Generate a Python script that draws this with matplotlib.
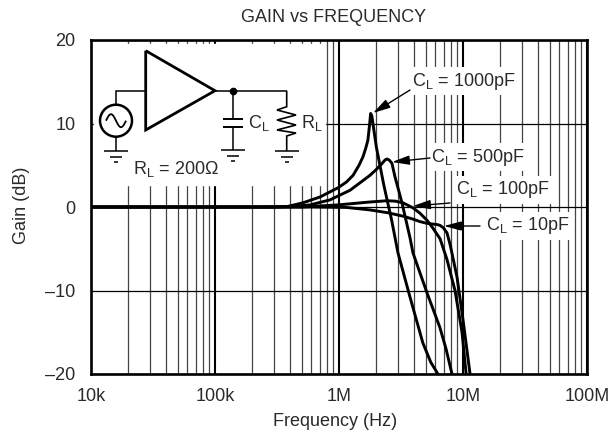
import numpy as np
import matplotlib
matplotlib.use('Agg')
import matplotlib.pyplot as plt

plt.rcParams['font.family'] = ['Liberation Sans', 'DejaVu Sans']
plt.rcParams['mathtext.fontset'] = 'custom'
plt.rcParams['mathtext.rm'] = 'Liberation Sans'
plt.rcParams['mathtext.default'] = 'rm'

# curves: frequency in MHz, gain in dB
f_1000 = [0.01, 0.25, 0.381, 0.512, 0.703, 0.982, 1.15, 1.30, 1.45, 1.56, 1.64, 1.71, 1.76, 1.80, 1.84, 2.0, 2.3, 2.66, 2.99, 3.74, 4.75, 5.5, 6.28]
g_1000 = [0, 0, 0.05, 0.5, 1.2, 2.3, 3.0, 3.8, 5.0, 6.0, 7.0, 8.0, 9.7, 11.2, 10.9, 7.2, 2.6, -1.6, -5.5, -10.8, -16.3, -18.6, -20]
f_500 = [0.01, 0.3, 0.42, 0.583, 0.845, 1.226, 1.78, 2.0, 2.22, 2.36, 2.44, 2.55, 2.67, 2.83, 3.22, 3.74, 3.95, 4.5, 5.13, 6.5, 7.3, 8.15]
g_500 = [0, 0, 0.05, 0.25, 0.85, 2.0, 3.8, 4.5, 5.2, 5.65, 5.75, 5.6, 5.25, 3.6, 0.5, -3.7, -5.5, -7.9, -10.3, -14.4, -17, -20]
f_100 = [0.01, 0.5, 0.98, 1.78, 2.44, 2.85, 3.28, 3.95, 4.5, 5.13, 5.7, 6.53, 7.43, 8.62, 9.82, 10.6]
g_100 = [0, 0, 0.25, 0.6, 0.75, 0.7, 0.5, -0.1, -0.75, -1.6, -2.5, -3.8, -6.3, -10, -15, -20]
f_10 = [0.01, 0.6, 1.15, 1.78, 2.5, 3.28, 3.95, 4.5, 5.1, 5.73, 6.17, 6.53, 6.95, 7.43, 7.9, 8.95, 10.0, 11.4]
g_10 = [0, 0, -0.05, -0.35, -0.7, -1.1, -1.45, -1.75, -1.95, -2.05, -2.1, -2.2, -2.5, -3.1, -4.6, -8.4, -13.5, -20]

x_ticks = [1e4, 1e5, 1e6, 1e7, 1e8]
x_labels = ['10k', '100k', '1M', '10M', '100M']
y_ticks = [-20, -10, 0, 10, 20]
y_labels = ['\u201320', '\u201310', '0', '10', '20']

text_color = '#2a2a2a'

fig = plt.figure(figsize=(6.16, 4.41), dpi=100)
ax = fig.add_axes([91/616, 1-374/441, 496/616, 334/441])

for f, g in [(f_1000, g_1000), (f_500, g_500), (f_100, g_100), (f_10, g_10)]:
	ax.plot(np.array(f)*1e6, g, color='black', lw=2.1, zorder=3, solid_joinstyle='round')

ax.set_xscale('log')
ax.set_xlim(1e4, 1e8)
ax.set_ylim(-20, 20)
ax.set_xticks(x_ticks, x_labels, fontsize=13, color=text_color)
ax.set_yticks(y_ticks, y_labels, fontsize=13, color=text_color)
ax.xaxis.set_minor_locator(matplotlib.ticker.LogLocator(base=10, subs=range(2, 10), numticks=12))
ax.xaxis.set_minor_formatter(matplotlib.ticker.NullFormatter())
ax.tick_params(which='both', length=0)
ax.tick_params(axis='x', pad=10)
ax.tick_params(axis='y', pad=11)
ax.grid(which='major', axis='x', color='black', lw=1.5)
ax.grid(which='minor', axis='x', color='#444444', lw=0.9)
ax.grid(which='major', axis='y', color='black', lw=0.9)
ax.set_axisbelow(True)
for s in ax.spines.values():
	s.set_linewidth(1.9)
	s.set_zorder(6)

# overlay in pixel coords for the circuit and the callouts
ov = fig.add_axes([0, 0, 1, 1], facecolor='none', zorder=5)
ov.set_xlim(0, 616)
ov.set_ylim(441, 0)
ov.axis('off')

fig.text(334/616, 1-17/441, 'GAIN vs FREQUENCY', ha='center', va='center', fontsize=13, color=text_color)
fig.text(335/616, 1-421/441, 'Frequency (Hz)', ha='center', va='center', fontsize=13, color=text_color)
fig.text(22/616, 1-205/441, 'Gain (dB)', ha='center', va='center', rotation=90, fontsize=13, color=text_color)

# white patch behind the circuit
ov.fill([94, 325, 325, 94], [44, 44, 185, 185], color='white', zorder=1)

def wire(xs, ys, lw=1.1):
	ov.plot(xs, ys, color='black', lw=lw, zorder=2, solid_capstyle='butt', solid_joinstyle='miter')

def ground(x, y):
	wire([x-12, x+12], [y, y])
	wire([x-6, x+6], [y+5.5, y+5.5])
	wire([x-2, x+2], [y+10.5, y+10.5])

wire([145.7, 145.7, 215, 145.7], [50.7, 130, 90.7, 50.7], lw=2)
wire([215, 286.7], [90.7, 90.7])
wire([145, 116, 116], [90.7, 90.7, 105])
wire([116, 116], [136.5, 151])
ov.add_patch(plt.Circle((116, 120.7), 16, fc='white', ec='black', lw=1.8, zorder=2))
t = np.linspace(0, 1, 40)
wire(116-10+20*t, 120.7-6.5*np.sin(2*np.pi*t), lw=1.3)
ground(116, 151)
ov.plot([233], [90.7], 'o', color='black', ms=4.5, zorder=3)
wire([233, 233], [90.7, 119])
wire([223, 243], [119, 119], lw=1.4)
wire([223, 243], [126.7, 126.7], lw=1.4)
wire([233, 233], [126.7, 150])
ground(233, 150)
wire([286.7, 286.7, 277, 296, 277, 296, 277, 296, 286.7, 286.7],
	[90.7, 106.7, 110, 115, 120, 125, 130, 133, 136, 151], lw=1.2)
ground(286.7, 151)

ctext = dict(fontsize=13, va='center', zorder=4, color=text_color)
ov.text(248, 123, 'C$_{L}$', **ctext)
ov.text(301, 123, 'R$_{L}$', **ctext)
ov.text(133, 169, 'R$_{L}$ = 200\u03a9', **ctext)

# callouts: label, text left/y, arrow tail, arrow head
callouts = [('C$_{L}$ = 1000pF', 412, 81, (410, 90), (373, 113)),
	('C$_{L}$ = 500pF', 431, 157, (430, 158), (392, 162)),
	('C$_{L}$ = 100pF', 456, 190, (450, 203), (413, 206)),
	('C$_{L}$ = 10pF', 486, 226, (480, 226), (444, 226))]
for label, x, y, tail, head in callouts:
	ov.text(x, y, label, bbox=dict(fc='white', ec='none', pad=2.5), **ctext)
	ov.annotate('', xy=head, xytext=tail, zorder=4,
		arrowprops=dict(arrowstyle='-|>,head_length=1.05,head_width=0.28', color='black', lw=1.0, shrinkA=0, shrinkB=0))

fig.savefig('out.png', dpi=100)
